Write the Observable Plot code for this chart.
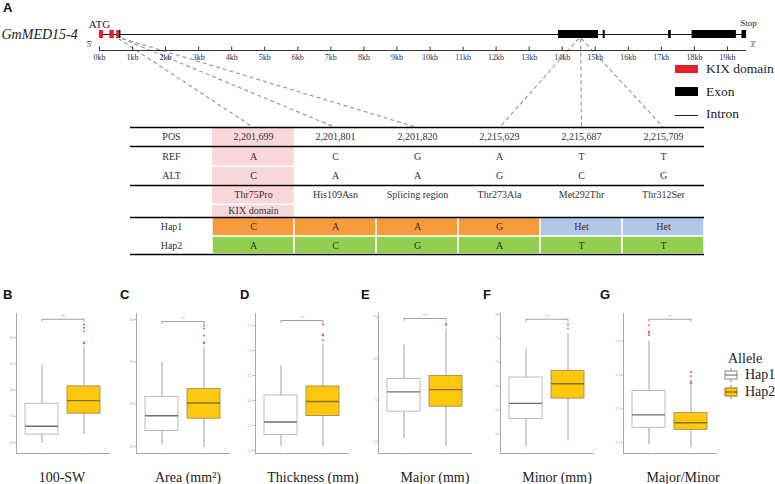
<!DOCTYPE html>
<html><head><meta charset="utf-8">
<script src="https://cdn.jsdelivr.net/npm/d3@7"></script>
<script src="https://cdn.jsdelivr.net/npm/@observablehq/plot@0.6"></script>
<style>
body{margin:0;background:#fff;}
#wrap{position:relative;width:775px;height:484px;overflow:hidden;font-family:"Liberation Serif","Times New Roman",serif;color:#222;}
#wrap svg{position:absolute;overflow:visible;}
.abs{position:absolute;white-space:nowrap;}
.letter{font-family:"Liberation Sans",Arial,sans-serif;font-weight:bold;font-size:13px;line-height:13px;color:#111;}
.ttl{font-size:14px;line-height:16px;text-align:center;width:120px;color:#222;}
.leg{font-size:13.5px;line-height:14px;color:#222;}
</style></head><body><div id="wrap"></div>
<script>
// ---------------- DATA ----------------
// Gene structure (kb from ATG)
const geneStartBp = 2201130;           // estimated genomic position of ATG
const geneEndKb = 19.58;
const kbTicks = d3.range(0, 20);
const exonStart = [0.00, 0.31, 0.52, 0.60, 13.89, 15.24, 17.22, 17.93, 19.44];
const exonEnd   = [0.12, 0.45, 0.60, 0.65, 15.10, 15.30, 17.30, 19.27, 19.58];
const exonType  = ["KIX", "KIX", "KIX", "Exon", "Exon", "Exon", "Exon", "Exon", "Exon"];

// Variant table
const snpPos   = [2201699, 2201801, 2201820, 2215629, 2215687, 2215709];
const refAllele = ["A", "C", "G", "A", "T", "T"];
const altAllele = ["C", "A", "A", "G", "C", "G"];
const effect    = ["Thr75Pro", "His109Asn", "Splicing region", "Thr273Ala", "Met292Thr", "Thr312Ser"];
const domainNote = ["KIX domain", "", "", "", "", ""];
const hap1Allele = ["C", "A", "A", "G", "Het", "Het"];
const hap2Allele = ["A", "C", "G", "A", "T", "T"];
const rowLabels = ["POS", "REF", "ALT", "", "", "Hap1", "Hap2"];

// Box plots: [lower whisker, Q1, median, Q3, upper whisker]
const traits = ["100-SW", "Area (mm²)", "Thickness (mm)", "Major (mm)", "Minor (mm)", "Major/Minor"];
const panelLetters = ["B", "C", "D", "E", "F", "G"];
const hap1Stats = [
  [9.8, 11.5, 13.1, 17.4, 24.7],
  [20.5, 23.7, 27.3, 31.7, 39.9],
  [5.08, 5.31, 5.57, 6.10, 6.69],
  [6.07, 6.72, 7.20, 7.51, 8.33],
  [4.73, 5.31, 5.64, 6.18, 6.78],
  [1.094, 1.144, 1.182, 1.253, 1.400]
];
const hap2Stats = [
  [11.5, 15.5, 18.0, 20.7, 28.3],
  [19.8, 26.6, 30.3, 33.6, 43.4],
  [5.08, 5.69, 5.98, 6.28, 7.13],
  [5.88, 6.84, 7.25, 7.58, 8.71],
  [4.86, 5.74, 6.05, 6.32, 7.09],
  [1.085, 1.138, 1.159, 1.188, 1.274]
];
const hap1Outliers = [[], [], [], [], [], [1.447, 1.429, 1.424, 1.418]];
const hap2Outliers = [
  [32.5, 31.9, 31.2, 29.1, 28.9],
  [48.6, 47.9, 46.2, 44.6, 44.4],
  [7.52, 7.32, 7.30, 7.20],
  [8.85, 8.81],
  [7.29, 7.21],
  [1.309, 1.297, 1.282, 1.276]
];
const yTicks = [
  [10, 15, 20, 25, 30],
  [20, 30, 40, 50],
  [5.0, 5.5, 6.0, 6.5, 7.0, 7.5],
  [6, 7, 8, 9],
  [5.0, 5.5, 6.0, 6.5, 7.0, 7.5],
  [1.1, 1.2, 1.3, 1.4]
];
const yDomains = [[7.9, 34.6], [18.4, 51.4], [4.94, 7.74], [5.71, 9.09], [4.59, 7.52], [1.068, 1.482]];
const bracketY = [33.5, 49.5, 7.60, 8.97, 7.40, 1.465];
const sigLabels = ["***", "**", "***", "***", "***", "**"];
const alleleKeys = ["Hap1", "Hap2"];

// ---------------- LAYOUT / STYLE ----------------
const wrap = document.getElementById("wrap");
const serif = "'Liberation Serif','Times New Roman',serif";
function place(el, left, top) { el.style.left = left + "px"; el.style.top = top + "px"; wrap.appendChild(el); return el; }
function div(cls, html, left, top, extra) {
  const d = document.createElement("div"); d.className = "abs " + cls; d.innerHTML = html;
  if (extra) Object.assign(d.style, extra);
  return place(d, left, top);
}
const kixRed = "#e8202a", gold = "#ffc70d";
const hapColor = {Hap1: "#f79a3c", Het: "#b4c6e7", Hap2: "#92cf50"};

// ---------------- PANEL A: gene ----------------
const geneX = d3.scaleLinear([0, 20], [99, 760]);
const tableX = d3.scaleLinear([0, 7], [130, 704]);
const exons = exonStart.map((s, i) => ({s, e: exonEnd[i], type: exonType[i]}));
const snps = snpPos.map((p, i) => ({kb: (p - geneStartBp) / 1000, kb2: geneX.invert(tableX(i + 1.5))}));

const gene = Plot.plot({
  width: 775, height: 127, margin: 0,
  x: {domain: geneX.domain(), range: geneX.range(), axis: null},
  y: {domain: [0, 127], range: [0, 127], axis: null},
  color: {type: "identity"},
  style: {fontFamily: serif, background: "transparent"},
  marks: [
    Plot.link(snps, {x1: "kb", x2: "kb2", y1: 38, y2: 127, stroke: "#9a9a9a", strokeWidth: 1.2, strokeDasharray: "4,3"}),
    Plot.ruleY([34], {x1: 0, x2: geneEndKb, stroke: "#111", strokeWidth: 1}),
    Plot.rect(exons, {x1: "s", x2: "e", y1: 30, y2: 38, fill: d => d.type === "KIX" ? kixRed : "#000"}),
    Plot.ruleY([50], {x1: 0, x2: geneEndKb, stroke: "#333", strokeWidth: 1.2}),
    Plot.ruleX(kbTicks, {x: d => d, y1: 46.5, y2: 50, stroke: "#333", strokeWidth: 1}),
    Plot.text(kbTicks, {x: d => d, y: 57, text: d => `${d}kb`, fontSize: 8, fill: "#1f2d50"}),
    Plot.text(["ATG"], {x: 0, y: 24, text: d => d, fontSize: 11, fill: "#222"}),
    Plot.text(["5'"], {x: 0, y: 44, text: d => d, fontSize: 8, dx: -10, fill: "#222"}),
    Plot.text(["3'"], {x: geneEndKb, y: 44, text: d => d, fontSize: 8, dx: 6, fill: "#222"}),
    Plot.text(["Stop"], {x: geneEndKb, y: 23, text: d => d, fontSize: 9, dx: 2, fill: "#222"}),
    Plot.text(["GmMED15-4"], {x: 0, y: 34, text: d => d, fontSize: 14, fontStyle: "italic", textAnchor: "start", dx: -98, fill: "#222"})
  ]
});
place(gene, 0, 0);
div("letter", "A", 3, 1);

// gene legend
div("", "", 675, 65, {width: "23px", height: "8px", background: kixRed});
div("leg", "KIX domain", 706, 62);
div("", "", 675, 87, {width: "23px", height: "9px", background: "#000"});
div("leg", "Exon", 706, 85);
div("", "", 675, 115, {width: "23px", height: "1.3px", background: "#222"});
div("leg", "Intron", 706, 107);

// ---------------- Variant table ----------------
const rowEdges = [0, 19, 39, 58, 77, 90, 109, 127];
const rowMid = r => (rowEdges[r] + rowEdges[r + 1]) / 2;
const pinkCells = [0, 1, 2, 3, 4].map(r => ({r}));
const hapCells = [];
hap1Allele.forEach((a, i) => hapCells.push({col: i + 1, r: 5, text: a, color: a === "Het" ? hapColor.Het : hapColor.Hap1}));
hap2Allele.forEach((a, i) => hapCells.push({col: i + 1, r: 6, text: a, color: hapColor.Hap2}));
const labels = [];
rowLabels.forEach((t, r) => { if (t) labels.push({col: 0, r, text: t}); });
const fmt = d3.format(",");
snpPos.forEach((p, i) => labels.push({col: i + 1, r: 0, text: fmt(p)}));
refAllele.forEach((t, i) => labels.push({col: i + 1, r: 1, text: t}));
altAllele.forEach((t, i) => labels.push({col: i + 1, r: 2, text: t}));
effect.forEach((t, i) => labels.push({col: i + 1, r: 3, text: t}));
domainNote.forEach((t, i) => { if (t) labels.push({col: i + 1, r: 4, text: t}); });
hapCells.forEach(c => labels.push(c));

const table = Plot.plot({
  width: 775, height: 132, margin: 0,
  x: {domain: tableX.domain(), range: tableX.range(), axis: null},
  y: {domain: [0, 127], range: [2, 129], axis: null},
  color: {type: "identity"},
  style: {fontFamily: serif, background: "transparent"},
  marks: [
    Plot.rect(pinkCells, {x1: 1, x2: 2, y1: d => rowEdges[d.r], y2: d => rowEdges[d.r + 1], fill: "#f9d7da", insetTop: 1, insetBottom: 0.5}),
    Plot.rect(hapCells, {x1: d => d.col, x2: d => d.col + 1, y1: d => rowEdges[d.r], y2: d => rowEdges[d.r + 1], fill: "color", insetLeft: 0.8, insetRight: 0.8, insetTop: 0.8, insetBottom: 0.8}),
    Plot.ruleY([0, 19, 58, 90, 127], {x1: 0, x2: 7, stroke: "#000", strokeWidth: 1.5}),
    Plot.text(labels, {x: d => d.col + 0.5, y: d => rowMid(d.r), text: "text", fontSize: 10, fill: "#333"})
  ]
});
place(table, 0, 125);

// ---------------- Box plots B–G ----------------
const panelAxisX = [16, 136, 255, 378, 500, 623];
const titleCenters = [62, 188, 313, 435, 557, 683];
const mLeft = 14;
traits.forEach((trait, i) => {
  const stats = [{hap: "Hap1", v: hap1Stats[i]}, {hap: "Hap2", v: hap2Stats[i]}];
  const outs = hap1Outliers[i].map(v => ({hap: "Hap1", v})).concat(hap2Outliers[i].map(v => ({hap: "Hap2", v})));
  const [y0, y1] = yDomains[i];
  const drop = (y1 - y0) * 3 / 140;
  const p = Plot.plot({
    width: 110, height: 154, marginLeft: mLeft, marginRight: 3, marginTop: 8, marginBottom: 6,
    x: {domain: alleleKeys, padding: 0.214, label: null},
    y: {domain: yDomains[i], label: null},
    style: {fontFamily: "'Liberation Sans',sans-serif", background: "transparent"},
    marks: [
      Plot.frame({anchor: "left", stroke: "#a8a8a8", strokeWidth: 1}),
      Plot.frame({anchor: "bottom", stroke: "#a8a8a8", strokeWidth: 1}),
      Plot.axisY(yTicks[i], {tickSize: 2, tickPadding: 1, fontSize: 3.5, fill: "#aaa", stroke: "#bbb", label: null}),
      Plot.axisX({tickSize: 2, tickFormat: () => "", stroke: "#bbb", label: null}),
      Plot.ruleX(stats, {x: "hap", y1: d => d.v[0], y2: d => d.v[1], stroke: "#a0a0a0", strokeWidth: 1}),
      Plot.ruleX(stats, {x: "hap", y1: d => d.v[3], y2: d => d.v[4], stroke: "#a0a0a0", strokeWidth: 1}),
      Plot.barY(stats, {x: "hap", y1: d => d.v[1], y2: d => d.v[3], fill: d => d.hap === "Hap1" ? "#fff" : gold, stroke: d => d.hap === "Hap1" ? "#b5b5b5" : "#a09050", strokeWidth: 0.9}),
      Plot.tickY(stats, {x: "hap", y: d => d.v[2], stroke: d => d.hap === "Hap1" ? "#6f6f6f" : "#8a6f1c", strokeWidth: 1.3}),
      Plot.dot(outs, {x: "hap", y: "v", r: 0.9, fill: "#f03a3a", stroke: null}),
      Plot.link([bracketY[i]], {x1: () => "Hap1", x2: () => "Hap2", y1: d => d, y2: d => d, stroke: "#8a8a8a", strokeWidth: 0.8}),
      Plot.ruleX(alleleKeys, {x: d => d, y1: bracketY[i], y2: bracketY[i] - drop, stroke: "#8a8a8a", strokeWidth: 0.8}),
      Plot.text([sigLabels[i]], {x: () => "Hap1", y: bracketY[i], text: d => d, dx: 21, dy: -3, fontSize: 4, fill: "#888"})
    ]
  });
  place(p, panelAxisX[i] - mLeft, 305);
  div("ttl", trait, titleCenters[i] - 60, 470);
});
// panel letters
const letterX = [3, 120, 240, 361, 483, 600];
panelLetters.forEach((l, i) => div("letter", l, letterX[i], 288));

// Allele legend
div("", "Allele", 728, 351, {fontSize: "14px", lineHeight: "16px"});
function keyIcon(fill, stroke, med, top) {
  const s = `<svg width="14" height="14" viewBox="0 0 14 14" style="position:static;overflow:visible">
    <line x1="7" y1="0" x2="7" y2="14" stroke="#888" stroke-width="1"/>
    <rect x="1" y="3" width="12" height="8" fill="${fill}" stroke="${stroke}" stroke-width="1"/>
    <line x1="1" y1="7" x2="13" y2="7" stroke="${med}" stroke-width="1.2"/></svg>`;
  div("", s, 724, top);
}
keyIcon("#fff", "#888", "#777", 368);
keyIcon(gold, "#8a7a40", "#7a6010", 385);
div("", "Hap1", 745, 367, {fontSize: "14px", lineHeight: "16px"});
div("", "Hap2", 745, 384, {fontSize: "14px", lineHeight: "16px"});
</script></body></html>
